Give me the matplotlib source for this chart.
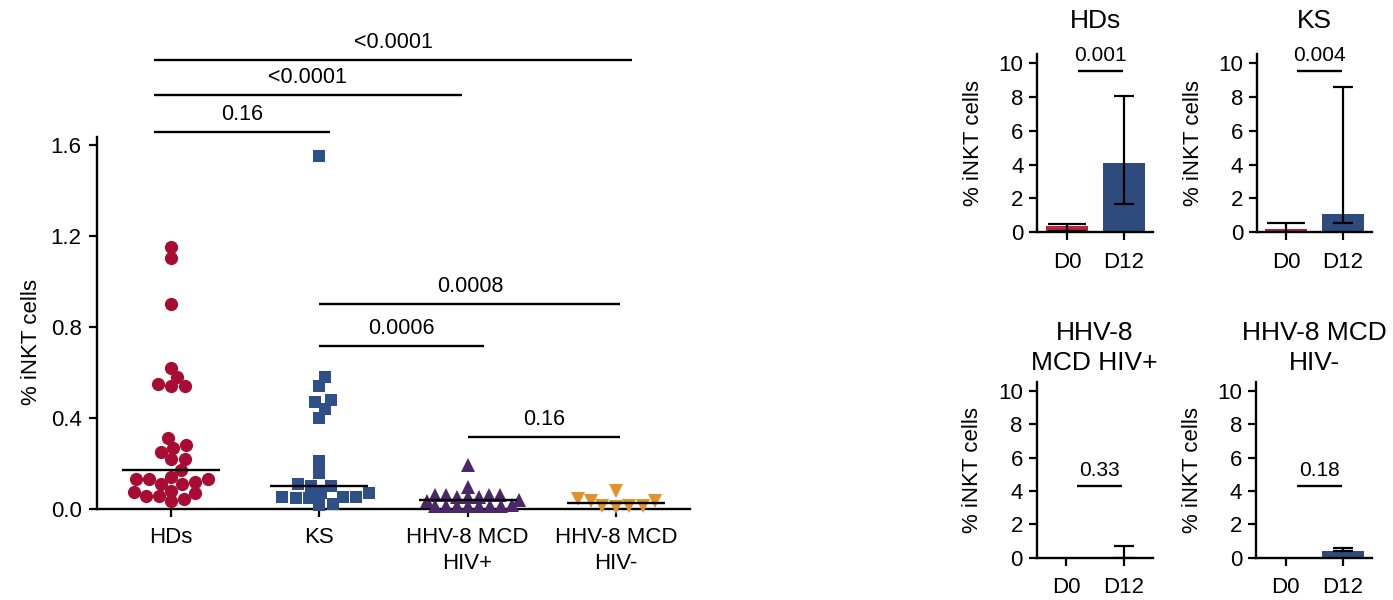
import numpy as np
import matplotlib
matplotlib.use("Agg")
import matplotlib.pyplot as plt

plt.rcParams['font.family'] = ['Liberation Sans', 'DejaVu Sans']

# ---------------- data: main scatter ----------------
categories = ["HDs", "KS", "HHV-8 MCD\nHIV+", "HHV-8 MCD\nHIV-"]
hds_values = [1.15, 1.105, 0.90, 0.62, 0.58, 0.55, 0.54, 0.54, 0.31, 0.28,
              0.27, 0.25, 0.22, 0.22, 0.171, 0.14, 0.13, 0.13, 0.13, 0.12,
              0.108, 0.108, 0.08, 0.075, 0.07, 0.057, 0.057, 0.044, 0.035]
ks_values = [1.55, 0.58, 0.54, 0.48, 0.47, 0.44, 0.40, 0.21, 0.16, 0.11,
             0.10, 0.10, 0.07, 0.07, 0.051, 0.051, 0.047, 0.047, 0.051,
             0.022, 0.018]
hiv_pos_values = [0.193, 0.095, 0.062, 0.062, 0.062, 0.062, 0.053, 0.053,
                  0.053, 0.04, 0.036, 0.016, 0.015, 0.015, 0.015, 0.015,
                  0.015, 0.014, 0.014]
hiv_neg_values = [0.08, 0.044, 0.037, 0.035, 0.015, 0.013, 0.012, 0.01]

main_yticks = [0.0, 0.4, 0.8, 1.2, 1.6]
main_ytick_labels = ["0.0", "0.4", "0.8", "1.2", "1.6"]

# significance comparisons between groups
comp_pairs = [(0, 3), (0, 2), (0, 1), (1, 3), (1, 2), (2, 3)]
comp_heights = [1.974, 1.82, 1.657, 0.901, 0.716, 0.316]
comp_labels = ["<0.0001", "<0.0001", "0.16", "0.0008", "0.0006", "0.16"]

# ---------------- data: bar panels ----------------
panel_titles = ["HDs", "KS", "HHV-8\nMCD HIV+", "HHV-8 MCD\nHIV-"]
days = ["D0", "D12"]
d0_values = [0.35, 0.18, 0.06, 0.05]
d0_low = [0.05, 0.0, 0.06, 0.05]
d0_high = [0.49, 0.52, 0.06, 0.05]
d12_values = [4.07, 1.08, 0.06, 0.38]
d12_low = [1.67, 0.53, 0.0, 0.38]
d12_high = [8.05, 8.6, 0.68, 0.6]
panel_p = ["0.001", "0.004", "0.33", "0.18"]
panel_p_height = [9.55, 9.55, 4.3, 4.3]
panel_yticks = [0, 2, 4, 6, 8, 10]

# ---------------- style ----------------
RED = "#A90C33"
BLUE = "#2F4F88"
PURPLE = "#4A2766"
ORANGE = "#E3922A"
BAR_RED = "#C21E40"
BAR_BLUE = "#2E4B7E"

group_styles = [
    dict(marker="o", color=RED, ms=9.5, sdx=13.5, sdy=10.0),
    dict(marker="s", color=BLUE, ms=8.5, sdx=13.5, sdy=10.0),
    dict(marker="^", color=PURPLE, ms=9.5, sdx=11.0, sdy=7.0),
    dict(marker="v", color=ORANGE, ms=9.5, sdx=13.5, sdy=10.0),
]
group_values = [hds_values, ks_values, hiv_pos_values, hiv_neg_values]

W, H = 1393, 600
fig = plt.figure(figsize=(W / 100, H / 100), dpi=100)

# ---------------- main scatter ----------------
ax = fig.add_axes([97 / W, 1 - 509 / H, 593 / W, 477.6 / H])
ax.set_xlim(-0.5, 3.5)
ax.set_ylim(0, 2.1)
for s in ["top", "right"]:
    ax.spines[s].set_visible(False)
ax.spines["left"].set_bounds(0, 1.635)
for s in ["left", "bottom"]:
    ax.spines[s].set_linewidth(1.7)
ax.set_yticks(main_yticks)
ax.set_yticklabels(main_ytick_labels)
ax.set_xticks(range(len(categories)))
ax.set_xticklabels(categories)
for t in ax.get_xticklabels():
    t.set_linespacing(1.3)
ax.tick_params(axis="both", direction="out", length=6, width=1.6,
               labelsize=16, pad=5)
ax.tick_params(axis="x", pad=7)
ax.set_ylabel("% iNKT cells", fontsize=16)
ax.yaxis.set_label_coords(-0.093, 0.35)

# pixel scale of data units
p0 = ax.transData.transform((0, 0))
p1 = ax.transData.transform((1, 1))
x_px = p1[0] - p0[0]
y_px = p1[1] - p0[1]


def swarm_offsets(values, dx_px=13.5, dy_px=10.0):
    y = np.asarray(values, float) * y_px / dy_px
    xs = np.zeros(len(y))
    px_list, py_list = [], []
    for i in np.argsort(y, kind="stable"):
        yi = y[i]
        px = np.array(px_list)
        py = np.array(py_list)
        near = np.abs(py - yi) < 1 if len(py) else np.zeros(0, bool)
        cands = [0.0]
        for a, b in zip(px[near], py[near]):
            h = np.sqrt(max(1 - (b - yi) ** 2, 0))
            cands += [a + h, a - h]
        cands = sorted(cands, key=lambda c: (round(abs(c), 6), -c))
        for c in cands:
            if np.all((px[near] - c) ** 2 + (py[near] - yi) ** 2 >= 1 - 1e-9):
                xs[i] = c
                break
        px_list.append(xs[i])
        py_list.append(yi)
    return xs * dx_px / x_px


for gi, (vals, st) in enumerate(zip(group_values, group_styles)):
    offs = swarm_offsets(vals, st["sdx"], st["sdy"])
    ax.plot(gi + offs, vals, linestyle="none", marker=st["marker"],
            color=st["color"], ms=st["ms"], mec=st["color"], mew=0,
            clip_on=False, zorder=3)
    med = np.median(vals)
    ax.plot([gi - 0.33, gi + 0.33], [med, med], color="black", lw=1.7,
            zorder=4, solid_capstyle="butt")

# bracket x extents (relative offsets to the group centers)
comp_offsets = [(-0.115, 0.108), (-0.115, -0.04), (-0.115, 0.07),
                (0.0, 0.03), (0.0, 0.11), (0.0, 0.03)]
for (a, b), hgt, lab, (oa, ob) in zip(comp_pairs, comp_heights, comp_labels,
                                       comp_offsets):
    xa, xb = a + oa, b + ob
    ax.plot([xa, xb], [hgt, hgt], color="black", lw=1.7, clip_on=False,
            solid_capstyle="butt")
    ax.annotate(lab, xy=((xa + xb) / 2, hgt), xytext=(0, 5),
                textcoords="offset points", ha="center", va="bottom",
                fontsize=15.5, annotation_clip=False)

# ---------------- bar panels ----------------
panel_boxes = [
    (1037.3, 232.3, 115.7, 16.94, 19),
    (1257.0, 232.3, 115.0, 16.94, 19),
    (1036.7, 557.7, 116.0, 16.70, 9),
    (1256.0, 557.7, 116.0, 16.70, 9),
]
for k, (left, base, width, ppu, tpad) in enumerate(panel_boxes):
    height = 10.5 * ppu
    bx = fig.add_axes([left / W, 1 - base / H, width / W, height / H])
    bx.set_xlim(-0.52, 1.51)
    bx.set_ylim(0, 10.5)
    for s in ["top", "right"]:
        bx.spines[s].set_visible(False)
    for s in ["left", "bottom"]:
        bx.spines[s].set_linewidth(1.7)
    xs = np.arange(len(days))
    vals = [d0_values[k], d12_values[k]]
    bx.bar(xs, vals, width=0.74, color=[BAR_RED, BAR_BLUE], zorder=2)
    lows = [d0_low[k], d12_low[k]]
    highs = [d0_high[k], d12_high[k]]
    caps = [14, 7]
    for x, v, lo, hi, cs in zip(xs, vals, lows, highs, caps):
        if hi - lo <= 0:
            continue
        bx.errorbar([x], [v], yerr=[[v - lo], [hi - v]], fmt="none",
                    ecolor="black", elinewidth=1.6, capsize=cs,
                    capthick=1.6, zorder=3)
    bx.set_xticks(xs)
    bx.set_xticklabels(days)
    bx.set_yticks(panel_yticks)
    bx.tick_params(axis="both", direction="out", length=6, width=1.6,
                   labelsize=16, pad=4)
    bx.tick_params(axis="x", pad=8)
    bx.set_ylabel("% iNKT cells", fontsize=16)
    bx.yaxis.set_label_coords(-0.46, 0.5)
    bx.set_title(panel_titles[k], fontsize=19, pad=tpad, linespacing=1.3)
    ph = panel_p_height[k]
    bx.plot([0.19, 0.98], [ph, ph], color="black", lw=1.7, clip_on=False,
            solid_capstyle="butt")
    bx.annotate(panel_p[k], xy=(0.585, ph), xytext=(0, 4),
                textcoords="offset points", ha="center", va="bottom",
                fontsize=15, annotation_clip=False)

fig.savefig("out.png", dpi=100)
